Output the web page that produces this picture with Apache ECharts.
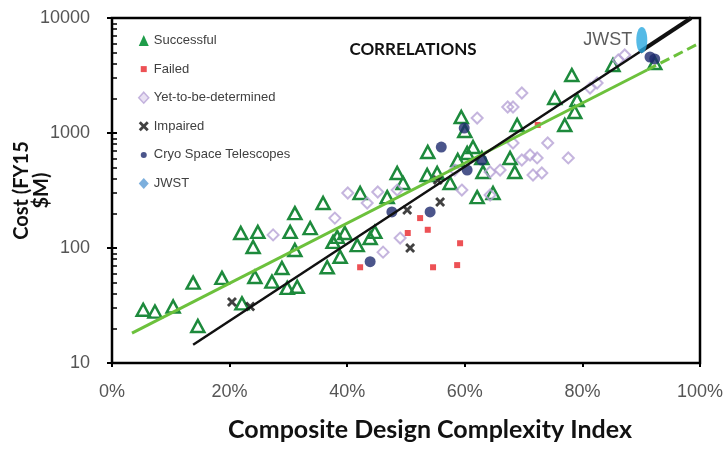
<!DOCTYPE html>
<html><head><meta charset="utf-8">
<script src="https://cdn.jsdelivr.net/npm/echarts@6/dist/echarts.min.js"></script>
<style>html,body{margin:0;padding:0;background:#fff}#c{width:723px;height:455px}</style>
</head><body><div id="c"></div><script>
// x = Composite Design Complexity Index (%), y = Cost (FY15 $M)
const xTicks = [0, 20, 40, 60, 80, 100];
const yTicks = [10, 100, 1000, 10000];

const successful = [
  [5.3,29],[7.3,28],[10.4,31],[14.6,21],[13.8,50],[18.7,55],[22.1,33],[21.9,135],[24.8,138],[24.0,102],
  [24.3,56],[27.2,51],[28.9,67],[29.8,45],[31.5,46],[30.3,138],[31.1,201],[31.1,96],
  [35.9,246],[33.7,149],[38.3,125],[39.6,135],[37.6,113],[41.7,106],[43.9,122],[44.7,138],[38.8,84],[36.6,68],
  [42.2,301],[46.8,277],[49.5,367],[57.5,367],[62.1,277],[64.8,301],
  [59.4,1377],[60.0,1040],[53.7,684],[61.4,755],[60.4,670],[58.8,582],[62.9,607],[55.3,449],[53.6,431],[48.5,449],[63.1,458],
  [78.2,3190],[85.2,3900],[75.3,2014],[79.1,1936],[78.7,1524],[77.0,1175],[68.9,1175],[67.7,607],[68.5,458],[92.3,4060]
];
const failed = [[42.2,68],[50.3,135],[52.4,182],[53.7,144],[54.6,68],[58.7,71],[59.2,110],[72.4,1175]];
const yetToBeDetermined = [
  [27.4,130],[40.1,301],[45.2,307],[43.4,246],[37.9,182],[49.0,122],[46.1,92],[48.5,319],[59.5,319],[64.3,289],
  [62.1,1349],[67.3,1683],[64.3,458],[66.0,476],[69.7,2228],[68.2,1683],[81.3,2460],[82.5,2723],[86.1,4315],[87.2,4770],
  [74.1,818],[77.6,607],[71.1,644],[69.7,582],[72.3,607],[71.6,431],[73.1,449],[68.2,818],[58.3,476]
];
const impaired = [[20.4,34],[23.5,31],[50.2,214],[55.4,390],[55.8,251],[50.7,100]];
const cryo = [[56.0,755],[59.9,1104],[62.9,582],[60.4,476],[47.6,206],[54.1,206],[43.9,76],[91.5,4580],[92.3,4400]];
const jwst = [[90.1,6440]];
const greenFit = [[3.4,18.2],[91,3530]];
const greenFitDashed = [[91,3530],[100,6070]];
const blackFit = [[13.8,14.4],[89.8,5090]];
const blackFitThick = [[89.8,5090],[98.5,10000]];

const xPath = 'path://M0,2 L2,0 L5,3 L8,0 L10,2 L7,5 L10,8 L8,10 L5,7 L2,10 L0,8 L3,5 Z';
const ellipsePath = 'path://M5,0 C8,0 10,6 10,13 C10,20 8,26 5,26 C2,26 0,20 0,13 C0,6 2,0 5,0 Z';
const smallSquare = 'path://M0,0 M10,10 M2,2 L8,2 L8,8 L2,8 Z';
const smallCircle = 'path://M0,0 M10,10 M5,2 C7,2 8,3 8,5 C8,7 7,8 5,8 C3,8 2,7 2,5 C2,3 3,2 5,2 Z';

const chart = echarts.init(document.getElementById('c'), null, {renderer: 'canvas'});
const lblFont = 'Liberation Sans';
chart.setOption({
  animation: false,
  backgroundColor: '#fff',
  grid: {left: 112, right: 23, top: 18, bottom: 92, containLabel: false, outerBoundsMode: 'none',
         show: true, borderColor: '#000', borderWidth: 2.5, backgroundColor: 'transparent'},
  legend: {
    orient: 'vertical', left: 133, top: 28.5, itemWidth: 10, itemHeight: 11, itemGap: 14.6,
    textStyle: {fontSize: 13, color: '#404040', fontFamily: lblFont, lineHeight: 14},
    data: [
      {name: 'Successful', icon: 'triangle', itemStyle: {color: '#1f9d4a', borderWidth: 0}},
      {name: 'Failed', icon: smallSquare, itemStyle: {color: '#e8262a', borderWidth: 0}},
      {name: 'Yet-to-be-determined', icon: 'diamond', itemStyle: {color: '#e4daf0', borderColor: '#b7a2d6', borderWidth: 1.5}},
      {name: 'Impaired', icon: xPath, itemStyle: {color: '#111', borderWidth: 0}},
      {name: 'Cryo Space Telescopes', icon: smallCircle, itemStyle: {color: '#1e2a6e', borderWidth: 0}},
      {name: 'JWST', icon: 'diamond', itemStyle: {color: '#5b9bd5', borderWidth: 0}}
    ]
  },
  graphic: [
    {type: 'text', x: 413, y: 50, z: 10, style: {text: 'CORRELATIONS', align: 'center', verticalAlign: 'middle', font: 'bold 17px Lato', fill: '#111'}}
  ],
  xAxis: {
    type: 'value', min: 0, max: 100, interval: 20,
    name: 'Composite Design Complexity Index', nameLocation: 'middle', nameGap: 54, nameMoveOverlap: false,
    nameTextStyle: {fontSize: 25, fontWeight: 'bold', fontFamily: 'Lato', color: '#111', padding: [0, 0, 0, 48]},
    axisLine: {show: true, lineStyle: {color: '#000', width: 2}},
    axisTick: {show: true, length: 4, lineStyle: {color: '#000', width: 2}},
    axisLabel: {formatter: '{value}%', fontSize: 18, color: '#555', fontFamily: lblFont, margin: 20},
    splitLine: {show: false}
  },
  yAxis: [{
    type: 'log', logBase: 10, min: 10, max: 10000,
    name: 'Cost (FY15\n$M)', nameLocation: 'middle', nameRotate: 90, nameGap: 60, nameMoveOverlap: false,
    nameTextStyle: {fontSize: 20, fontWeight: 'bold', fontFamily: 'Lato', color: '#111', lineHeight: 20, align: 'center'},
    axisLine: {show: true, lineStyle: {color: '#000', width: 2}},
    axisTick: {show: true, inside: true, length: 5, lineStyle: {color: '#000', width: 2}},
    minorTick: {show: true, splitNumber: 9, length: 5, lineStyle: {color: '#000', width: 1.5}},
    axisLabel: {fontSize: 18, color: '#555', fontFamily: lblFont, margin: 22, formatter: v => String(Math.round(v))},
    splitLine: {show: false}
  }, {
    // outward major ticks
    type: 'log', logBase: 10, min: 10, max: 10000, position: 'left',
    axisLine: {show: false},
    axisLabel: {show: false},
    axisTick: {show: true, inside: false, length: 5, lineStyle: {color: '#000', width: 2}},
    splitLine: {show: false}
  }],
  series: [
    {name: 'Successful', type: 'scatter', data: successful, symbol: 'triangle', symbolSize: [13, 12], z: 2,
     itemStyle: {color: 'rgba(255,255,255,0)', borderColor: '#1d8a3c', borderWidth: 2.5, opacity: 1}},
    {name: 'Yet-to-be-determined', type: 'scatter', data: yetToBeDetermined, symbol: 'diamond', symbolSize: 11, z: 2,
     itemStyle: {color: 'rgba(255,255,255,0)', borderColor: '#b7a2d6', borderWidth: 2}},
    {name: 'Failed', type: 'scatter', data: failed, symbol: 'rect', symbolSize: 6, z: 3, itemStyle: {color: '#e8262a'}},
    {name: 'Impaired', type: 'scatter', data: impaired, symbol: xPath, symbolSize: 10, z: 4, itemStyle: {color: '#111'}},
    {name: 'Cryo Space Telescopes', type: 'scatter', data: cryo, symbol: 'circle', symbolSize: 11, z: 4, itemStyle: {color: '#1e2a6e'}},
    {name: 'JWST', type: 'scatter', data: jwst, symbol: ellipsePath, symbolSize: [11, 26], z: 6, itemStyle: {color: '#2aa9e0'},
     label: {show: true, position: 'left', distance: 4, formatter: 'JWST', fontSize: 18, color: '#333', fontFamily: lblFont}},
    {type: 'line', data: greenFit, symbol: 'none', z: 5, lineStyle: {color: '#6cc13c', width: 3}},
    {type: 'line', data: greenFitDashed, symbol: 'none', z: 5, lineStyle: {color: '#6cc13c', width: 3, type: [10, 5]}},
    {type: 'line', data: blackFit, symbol: 'none', z: 5, lineStyle: {color: '#111', width: 2.5}},
    {type: 'line', data: blackFitThick, symbol: 'none', z: 5, lineStyle: {color: '#111', width: 4}}
  ]
});
</script></body></html>
